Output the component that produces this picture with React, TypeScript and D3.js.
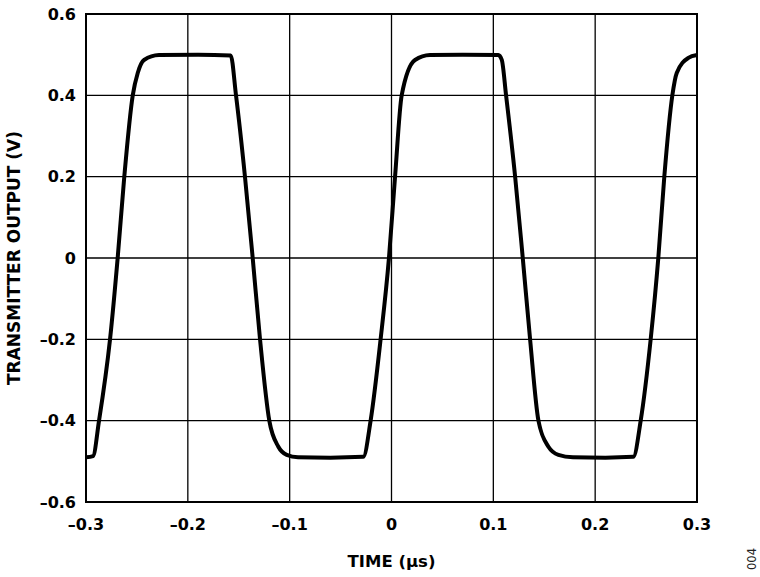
import * as React from "react";
import * as d3 from "d3";

// waveform: time in µs, volts
const timeUs: number[] = [
  -0.3, -0.2931, -0.2872, -0.2764, -0.2689, -0.2624, -0.2541, -0.2492, -0.243, -0.2283,
  -0.1900, -0.1579, -0.1527, -0.1439, -0.1363, -0.1291, -0.12, -0.1111, -0.1029, -0.0918,
  -0.06, -0.0277, -0.0205, -0.0107, -0.0025, 0.0035, 0.01, 0.0231, 0.0378,
  0.07, 0.1049, 0.1083, 0.1125, 0.1214, 0.1289, 0.1361, 0.1443, 0.1541, 0.1639, 0.1782,
  0.21, 0.2375, 0.2447, 0.2545, 0.262, 0.2679, 0.2758, 0.2801, 0.2915, 0.3,
];
const volts: number[] = [
  -0.49, -0.487, -0.4, -0.2, 0, 0.2, 0.4, 0.455, 0.487, 0.499,
  0.5, 0.498, 0.4, 0.2, 0, -0.2, -0.4, -0.464, -0.484, -0.49,
  -0.491, -0.489, -0.4, -0.2, 0, 0.2, 0.4, 0.487, 0.499,
  0.5, 0.499, 0.487, 0.4, 0.2, 0, -0.2, -0.4, -0.464, -0.484, -0.49,
  -0.491, -0.489, -0.4, -0.2, 0, 0.2, 0.4, 0.455, 0.492, 0.499,
];

const xTicks = [-0.3, -0.2, -0.1, 0, 0.1, 0.2, 0.3];
const yTicks = [-0.6, -0.4, -0.2, 0, 0.2, 0.4, 0.6];

const WIDTH = 760;
const HEIGHT = 577;
const FONT = "'DejaVu Sans', Verdana, sans-serif";

// use an en dash for negatives like the datasheet does
const fmt = (v: number) => {
  if (Math.abs(v) < 1e-9) return "0";
  const s = Math.abs(v).toFixed(1);
  return v < 0 ? "\u2013" + s : s;
};

export default function App() {
  const svgRef = React.useRef<SVGSVGElement>(null);

  React.useEffect(() => {
    if (!svgRef.current) return;
    const svg = d3.select(svgRef.current);
    svg.selectAll("*").remove();

    const margin = { top: 14, right: 63, bottom: 75, left: 86 };
    const w = WIDTH - margin.left - margin.right;
    const h = HEIGHT - margin.top - margin.bottom;

    const x = d3.scaleLinear().domain([-0.3, 0.3]).range([0, w]);
    const y = d3.scaleLinear().domain([-0.6, 0.6]).range([h, 0]);

    const g = svg.append("g")
      .attr("transform", "translate(" + margin.left + "," + margin.top + ")");

    // grid
    g.append("g")
      .selectAll("line")
      .data(xTicks.slice(1, -1))
      .enter().append("line")
      .attr("x1", d => x(d)).attr("x2", d => x(d))
      .attr("y1", 0).attr("y2", h)
      .attr("stroke", "#000").attr("stroke-width", 1.3);
    g.append("g")
      .selectAll("line")
      .data(yTicks.slice(1, -1))
      .enter().append("line")
      .attr("x1", 0).attr("x2", w)
      .attr("y1", d => y(d)).attr("y2", d => y(d))
      .attr("stroke", "#000").attr("stroke-width", 1.3);

    // waveform
    const pts: [number, number][] = timeUs.map((t, i) => [t, volts[i]]);
    const line = d3.line<[number, number]>()
      .x(d => x(d[0]))
      .y(d => y(d[1]))
      .curve(d3.curveMonotoneX);
    g.append("path")
      .datum(pts)
      .attr("d", line)
      .attr("fill", "none")
      .attr("stroke", "#000")
      .attr("stroke-width", 4)
      .attr("stroke-linejoin", "round");

    // frame
    g.append("rect")
      .attr("x", 0).attr("y", 0)
      .attr("width", w).attr("height", h)
      .attr("fill", "none")
      .attr("stroke", "#000")
      .attr("stroke-width", 2);

    // tick labels
    g.append("g")
      .selectAll("text")
      .data(xTicks)
      .enter().append("text")
      .attr("x", d => x(d))
      .attr("y", h + 28)
      .attr("text-anchor", "middle")
      .attr("font-family", FONT)
      .attr("font-weight", "bold")
      .attr("font-size", "16px")
      .text(d => fmt(d));
    g.append("g")
      .selectAll("text")
      .data(yTicks)
      .enter().append("text")
      .attr("x", -10)
      .attr("y", d => y(d))
      .attr("dy", "0.36em")
      .attr("text-anchor", "end")
      .attr("font-family", FONT)
      .attr("font-weight", "bold")
      .attr("font-size", "16px")
      .text(d => fmt(d));

    // axis titles
    svg.append("text")
      .attr("x", margin.left + w / 2)
      .attr("y", 567)
      .attr("text-anchor", "middle")
      .attr("font-family", FONT)
      .attr("font-weight", "bold")
      .attr("font-size", "16.5px")
      .text("TIME (\u00b5s)");
    svg.append("text")
      .attr("transform", "translate(20," + (margin.top + h / 2) + ") rotate(-90)")
      .attr("text-anchor", "middle")
      .attr("font-family", FONT)
      .attr("font-weight", "bold")
      .attr("font-size", "17px")
      .text("TRANSMITTER OUTPUT (V)");

    svg.append("text")
      .attr("transform", "translate(756,559) rotate(-90)")
      .attr("text-anchor", "middle")
      .attr("font-family", FONT)
      .attr("font-size", "11.5px")
      .attr("fill", "#222")
      .text("004");
  }, []);

  return (
    <svg
      ref={svgRef}
      width={WIDTH}
      height={HEIGHT}
      style={{ position: "absolute", left: 0, top: 0, background: "#fff" }}
    />
  );
}
